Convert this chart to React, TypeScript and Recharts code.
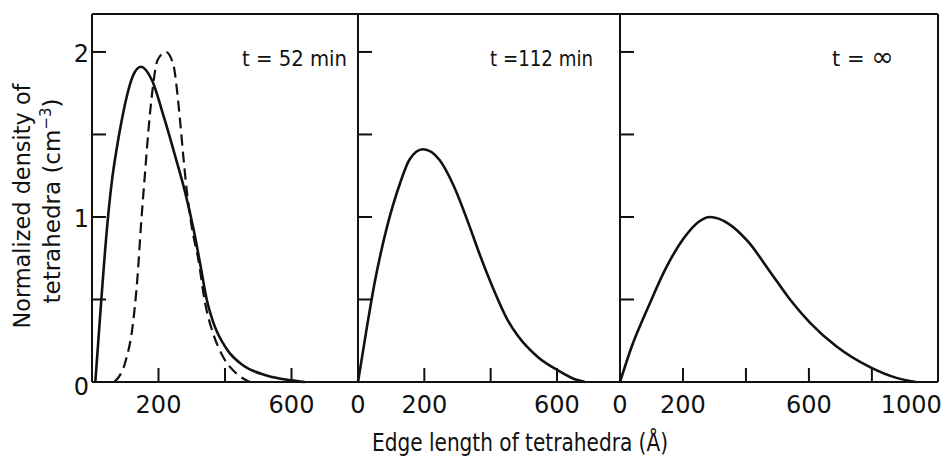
import React from 'react';
import { LineChart, Line, XAxis, YAxis, ReferenceLine } from 'recharts';

// t = 52 min, solid curve (edge length in Å, normalized density)
const EDGE_52_SOLID = [10, 27, 45, 60, 74, 87, 107, 122, 147, 180, 217, 250, 280, 305, 325, 345, 365, 405, 455, 525, 600, 640];
const DENS_52_SOLID = [0, 0.47, 0.93, 1.22, 1.41, 1.56, 1.75, 1.85, 1.91, 1.83, 1.6, 1.37, 1.15, 0.93, 0.72, 0.5, 0.36, 0.2, 0.1, 0.04, 0.01, 0];

// t = 52 min, dashed curve
const EDGE_52_DASHED = [67, 102, 122, 137, 147, 160, 170, 182, 197, 222, 245, 255, 265, 275, 285, 300, 320, 340, 365, 395, 435, 475];
const DENS_52_DASHED = [0, 0.133, 0.335, 0.64, 0.94, 1.28, 1.53, 1.77, 1.95, 2.0, 1.92, 1.78, 1.58, 1.36, 1.16, 0.94, 0.74, 0.48, 0.29, 0.15, 0.05, 0];

// t = 112 min
const EDGE_112 = [0, 25, 50, 85, 126, 156, 196, 246, 286, 337, 362, 407, 450, 482, 543, 603, 650, 684];
const DENS_112 = [0, 0.31, 0.6, 0.92, 1.2, 1.35, 1.41, 1.345, 1.2, 0.94, 0.8, 0.57, 0.38, 0.28, 0.15, 0.07, 0.02, 0];

// t = infinity
const EDGE_INF = [0, 37, 90, 143, 206, 249, 286, 344, 407, 476, 540, 603, 688, 794, 878, 940];
const DENS_INF = [0, 0.214, 0.456, 0.68, 0.88, 0.97, 1.0, 0.96, 0.85, 0.67, 0.5, 0.36, 0.215, 0.09, 0.025, 0];

const Y_TICK_MARKS = [0.5, 1, 1.5, 2];
const Y_TICK_LABELS = [0, 1, 2];

const P1_X_MARKS = [200, 400, 600];
const P1_X_LABELS = [200, 600];
const P2_X_MARKS = [200, 400, 600];
const P2_X_LABELS = [0, 200, 600];
const P3_X_MARKS = [200, 400, 600, 800];
const P3_X_LABELS = [0, 200, 600, 1000];

const FONT = '"DejaVu Sans", sans-serif';
const INK = '#111';
const Y_TOP = 2.23;

const toPoints = (xs: number[], ys: number[]) => xs.map((x, i) => ({ x, y: ys[i] }));
const union = (a: number[], b: number[]) => Array.from(new Set([...a, ...b])).sort((m, n) => m - n);

const borderLine = { stroke: INK, strokeWidth: 2 };

function bottomTick(marks: number[], labels: number[], lastEnd = false) {
  return (props: any) => {
    const { x, y, payload } = props;
    const v = payload.value;
    const isLast = lastEnd && v === labels[labels.length - 1];
    return (
      <g>
        {marks.includes(v) && <line x1={x} y1={y} x2={x} y2={y - 14} stroke={INK} strokeWidth={2} />}
        {labels.includes(v) && (
          <text
            x={isLast ? x + 7 : x}
            y={y + 31}
            textAnchor={isLast ? 'end' : 'middle'}
            fontSize={24}
            fontFamily={FONT}
            fill={INK}
          >
            {v}
          </text>
        )}
      </g>
    );
  };
}

function leftTick(showLabels: boolean) {
  return (props: any) => {
    const { x, y, payload } = props;
    const v = payload.value;
    return (
      <g>
        {Y_TICK_MARKS.includes(v) && <line x1={x} y1={y} x2={x + 14} y2={y} stroke={INK} strokeWidth={2} />}
        {showLabels && Y_TICK_LABELS.includes(v) && (
          <text x={x - 3} y={y + (v === 0 ? 13 : 10)} textAnchor="end" fontSize={24} fontFamily={FONT} fill={INK}>
            {v}
          </text>
        )}
      </g>
    );
  };
}

interface PanelProps {
  left: number;
  axisWidth: number;
  plotWidth: number;
  rightPad: number;
  xMax: number;
  marks: number[];
  labels: number[];
  showYLabels: boolean;
  rightBorder?: boolean;
  lastEnd?: boolean;
  children: React.ReactNode;
}

function Panel({ left, axisWidth, plotWidth, rightPad, xMax, marks, labels, showYLabels, rightBorder, lastEnd, children }: PanelProps) {
  const ticks = union(marks, labels);
  return (
    <div style={{ position: 'absolute', left, top: 0 }}>
      <LineChart
        width={axisWidth + plotWidth + rightPad}
        height={440}
        margin={{ top: 14, right: rightPad, bottom: 0, left: 0 }}
      >
        <XAxis
          dataKey="x"
          type="number"
          domain={[0, xMax]}
          ticks={ticks}
          interval={0}
          height={58}
          tickSize={0}
          tickMargin={0}
          tickLine={false}
          axisLine={borderLine}
          tick={bottomTick(marks, labels, lastEnd)}
        />
        <YAxis
          type="number"
          domain={[0, Y_TOP]}
          ticks={[0, 0.5, 1, 1.5, 2]}
          interval={0}
          width={axisWidth}
          tickSize={0}
          tickMargin={0}
          tickLine={false}
          axisLine={borderLine}
          tick={leftTick(showYLabels)}
        />
        <ReferenceLine y={Y_TOP} stroke={INK} strokeWidth={2} />
        {rightBorder && <ReferenceLine x={xMax} stroke={INK} strokeWidth={2} />}
        {children}
      </LineChart>
    </div>
  );
}

const lineStyle = {
  type: 'monotone' as const,
  dataKey: 'y',
  stroke: INK,
  strokeWidth: 2.6,
  dot: false,
  activeDot: false,
  isAnimationActive: false,
};

export default function App() {
  return (
    <div style={{ position: 'absolute', left: 0, top: 0, width: 946, height: 459, background: '#fff', overflow: 'hidden' }}>
      <Panel left={0} axisWidth={92} plotWidth={266} rightPad={4} xMax={800} marks={P1_X_MARKS} labels={P1_X_LABELS} showYLabels>
        <Line {...lineStyle} data={toPoints(EDGE_52_SOLID, DENS_52_SOLID)} />
        <Line {...lineStyle} data={toPoints(EDGE_52_DASHED, DENS_52_DASHED)} strokeWidth={2.2} strokeDasharray="11 6" />
      </Panel>
      <Panel left={348} axisWidth={10} plotWidth={262} rightPad={4} xMax={790} marks={P2_X_MARKS} labels={P2_X_LABELS} showYLabels={false}>
        <Line {...lineStyle} data={toPoints(EDGE_112, DENS_112)} />
      </Panel>
      <Panel left={610} axisWidth={10} plotWidth={318} rightPad={8} xMax={1010} marks={P3_X_MARKS} labels={P3_X_LABELS} showYLabels={false} rightBorder lastEnd>
        <Line {...lineStyle} data={toPoints(EDGE_INF, DENS_INF)} />
      </Panel>
      <svg width={946} height={459} style={{ position: 'absolute', left: 0, top: 0, pointerEvents: 'none' }}>
        <g fontFamily={FONT} fill={INK}>
          <text x={242} y={66} fontSize={21} textLength={105} lengthAdjust="spacingAndGlyphs">t = 52 min</text>
          <text x={490} y={66} fontSize={21} textLength={103} lengthAdjust="spacingAndGlyphs">t =112 min</text>
          <text x={832} y={66} fontSize={21}>
            t = <tspan fontSize={27}>∞</tspan>
          </text>
          <text transform="translate(30, 206) rotate(-90)" textAnchor="middle" fontSize={23} textLength={245} lengthAdjust="spacingAndGlyphs">
            Normalized density of
          </text>
          <text transform="translate(60, 201) rotate(-90)" textAnchor="middle" fontSize={23}>
            tetrahedra (cm<tspan dy={-9} fontSize={15}>−3</tspan><tspan dy={9}>)</tspan>
          </text>
          <text x={520} y={451} textAnchor="middle" fontSize={25} textLength={296} lengthAdjust="spacingAndGlyphs">
            Edge length of tetrahedra (Å)
          </text>
        </g>
      </svg>
    </div>
  );
}
